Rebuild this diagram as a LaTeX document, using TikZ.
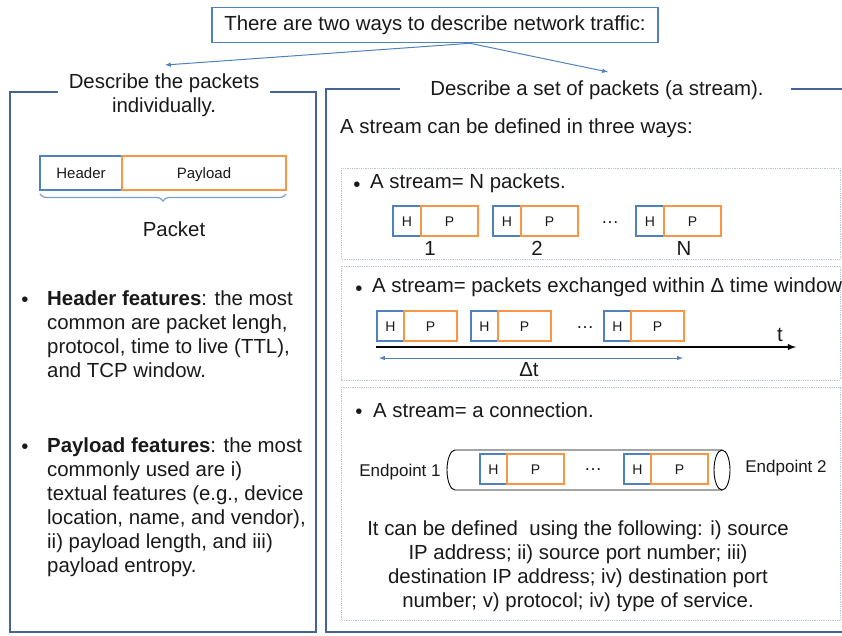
\documentclass[tikz,border=0pt]{standalone}
\usepackage{fontspec}
\setmainfont{Liberation Sans}
\usepackage{tikz}
\usetikzlibrary{arrows,positioning,decorations.pathreplacing}
\usepackage{xcolor}
\definecolor{framecol}{RGB}{68,100,150}
\definecolor{hdrblue}{RGB}{79,129,189}
\definecolor{payorange}{RGB}{247,150,70}
\definecolor{subgrey}{RGB}{185,196,212}
\definecolor{txtcol}{RGB}{25,25,25}

\begin{document}
\begin{tikzpicture} [
      x = 1pt, y = -1pt,
      inner sep = 0,
      every node/.style = { text = txtcol },
      big/.style = { font = \fontsize{20.4}{24}\selectfont },
      small/.style = { font = \fontsize{14}{16}\selectfont, text height = 10, text depth = 0 },
      frame/.style = { draw = framecol, line width = 1.8pt },
      subbox/.style = { draw = subgrey, densely dotted, line width = 0.8pt },
      hbox/.style = { small, draw = hdrblue, line width = 1.6pt, minimum height = 30, outer sep = 0 },
      pbox/.style = { small, draw = payorange, line width = 1.6pt, minimum height = 30, outer sep = 0 },
      dots/.style = { font = \fontsize{18}{20}\selectfont },
      link/.style = { draw = hdrblue, line width = 1pt, -latex }
      ]
      \useasboundingbox (0,0) rectangle (842,635);

      % title and the two ways
      \node [big, draw = hdrblue, line width = 1.6pt, minimum width = 446, minimum height = 35] (title) at (435,25) {There are two ways to describe network traffic:};
      \coordinate (toleft) at (165,65);
      \coordinate (toright) at (608,72);
      \draw [link] ([xshift=35]title.south) -- (toleft);
      \draw [link] ([xshift=35]title.south) -- (toright);

      % left: single packets
      \node [big, align = center] (indiv) at (164,95) {Describe the packets\\individually.};
      \draw [frame] (58,92) -- (10,92) -- (10,632) -- (316,632) -- (316,92) -- (270,92);
      \node [hbox, minimum width = 82, minimum height = 34, font = \fontsize{15}{17}\selectfont, text height = 10.7] (hdr) at (81,173) {Header};
      \node [pbox, minimum width = 164, minimum height = 34, font = \fontsize{15}{17}\selectfont, text height = 10.7, right = 0pt of hdr] (pay) {Payload};
      \draw [draw = hdrblue!75, line width = 1.2pt, decorate, decoration = {brace, mirror, amplitude = 7pt}] ([yshift=-4]hdr.south west) -- ([yshift=-4]pay.south east);
      \node [big] (pkt) at (174,229) {Packet};
      \node [big] (b1) at (25,302) {•};
      \node [big, anchor = north west, align = left] (hfeat) at (47,291) {\textbf{Header features}: the most\\common are packet lengh,\\protocol, time to live (TTL),\\and TCP window.};
      \node [big] (b2) at (25,449) {•};
      \node [big, anchor = north west, align = left] (pfeat) at (47,438) {\textbf{Payload features}: the most\\commonly used are i)\\textual features (e.g., device\\location, name, and vendor),\\ii) payload length, and iii)\\payload entropy.};

      % right: streams
      \node [big] (stream) at (597,90) {Describe a set of packets (a stream).};
      \draw [frame] (400,89) -- (326,89) -- (326,632) -- (842,632);
      \draw [frame] (791,89) -- (842,89);
      \node [big, anchor = west] (three) at (340,128) {A stream can be defined in three ways:};
      \draw [subbox] (341,168) rectangle (840,259);
      \draw [subbox] (341,266) rectangle (840,380);
      \draw [subbox] (341,387) rectangle (840,620);

      % N packets
      \node [big] (s1) at (357,187) {•};
      \node [big, anchor = west] (npk) at (370,183) {A stream= N packets.};
      \foreach \x/\lx/\lab [count=\i] in {393/430/1, 493/537/2, 636/684/N} {
        \node [hbox, minimum width = 28, anchor = west] (h\i) at (\x,221) {H};
        \node [pbox, minimum width = 57, right = 0pt of h\i] (p\i) {P};
        \node [big] (n\i) at (\lx,248) {\lab};
      }
      \node [dots] (dots1) at (610,223) {…};

      % time window
      \node [big] (s2) at (359,291) {•};
      \node [big, anchor = west] (window) at (372,287) {A stream= packets exchanged within Δ time window};
      \foreach \x [count=\i] in {377, 471, 604} {
        \node [hbox, minimum width = 27, anchor = west] (th\i) at (\x,326) {H};
        \node [pbox, minimum width = 53, right = 0pt of th\i] (tp\i) {P};
      }
      \node [dots] (dots2) at (585,328) {…};
      \coordinate (t0) at (376,347);
      \coordinate (t1) at (796,347);
      \draw [line width = 1.8pt, -latex] (t0) -- (t1);
      \node [big] (tlab) at (780,335) {t};
      \coordinate (d0) at (379,358);
      \coordinate (d1) at (683,358);
      \draw [draw = hdrblue, line width = 1pt, latex-latex] (d0) -- (d1);
      \node [big] (dt) at (529,370) {Δt};

      % connection
      \node [big] (s3) at (359,414) {•};
      \node [big, anchor = west] (conn) at (373,410) {A stream= a connection.};
      \draw [line width = 0.9pt] (722,450) -- (455,450) arc [start angle = 270, end angle = 90, x radius = 8, y radius = 20] -- (722,490);
      \draw [line width = 0.9pt] (722,470) ellipse [x radius = 8, y radius = 20];
      \foreach \x [count=\i] in {480, 624} {
        \node [hbox, minimum width = 27, anchor = west] (ch\i) at (\x,469) {H};
        \node [pbox, minimum width = 57, right = 0pt of ch\i] (cp\i) {P};
      }
      \node [dots] (dots3) at (593,470) {…};
      \node [font = \fontsize{17}{20}\selectfont] (ep1) at (400,472) {Endpoint 1};
      \node [font = \fontsize{17}{20}\selectfont] (ep2) at (786,468) {Endpoint 2};
      \node [big, align = center, anchor = north] (fields) at (578,521) {It can be defined\ \ using the following: i) source\\IP address; ii) source port number; iii)\\destination IP address; iv) destination port\\number; v) protocol; iv) type of service.};
    \end{tikzpicture}
\end{document}
